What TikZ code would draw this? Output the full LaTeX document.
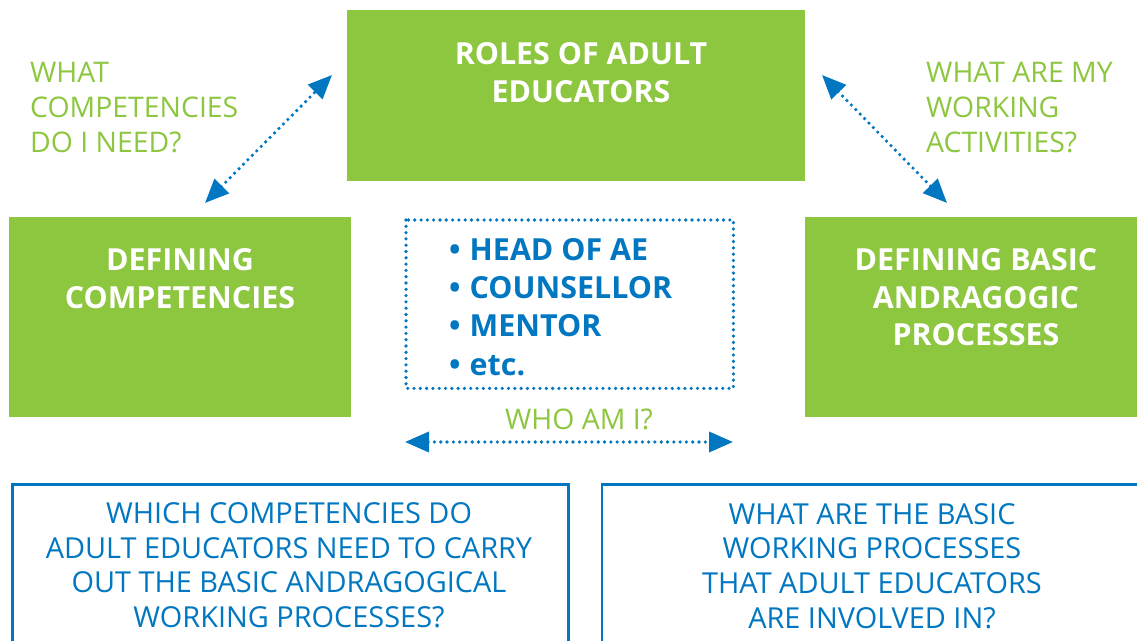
\documentclass[tikz,border=0pt]{standalone}
\usepackage{fontspec}
\setmainfont{Open Sans}
\usepackage{xcolor}
\usetikzlibrary{arrows.meta}
\usetikzlibrary{positioning}
\definecolor{leafgreen}{RGB}{141,198,63}
\definecolor{oceanblue}{RGB}{0,119,192}
\tikzset{%
  greenbox/.style={rectangle,fill=leafgreen,draw=none,anchor=north west,inner sep=0pt}
}
\tikzset{%
  whitetitle/.style={text=white,font=\bfseries\fontsize{30.5}{38}\selectfont,align=center,anchor=north,inner sep=0pt}
}
\tikzset{%
  greenask/.style={text=leafgreen,font=\fontsize{28.5}{35}\selectfont,align=left,anchor=north west,inner sep=0pt}
}
\tikzset{%
  bluebox/.style={rectangle,draw=oceanblue,line width=2.7bp,anchor=north west,inner sep=0pt}
}
\tikzset{%
  blueask/.style={text=oceanblue,font=\fontsize{29}{35}\selectfont,align=center,anchor=north,inner sep=0pt}
}
\tikzset{%
  dotline/.style={draw=oceanblue,line width=3.6bp,line cap=round,dash pattern=on 0pt off 6.3bp},
  dotarrow/.style={dotline,{Triangle[length=24bp,width=20bp]}-{Triangle[length=24bp,width=20bp]}}
}
\begin{document}
\begin{tikzpicture}[x=1bp,y=-1bp]
  \useasboundingbox (0,0) rectangle (1137,641);

  % green boxes
  \node[greenbox,minimum width=458bp,minimum height=171bp] (roles) at (347,10) {};
  \node[greenbox,minimum width=342bp,minimum height=200bp] (defcomp) at (9,217) {};
  \node[greenbox,minimum width=335bp,minimum height=200bp] (defproc) at (805,217) {};
  \node[whitetitle] (rolestext) at (581,42) {ROLES OF ADULT\\EDUCATORS};
  \node[whitetitle] (defcomptext) at (180,248) {DEFINING\\COMPETENCIES};
  \node[whitetitle] (defproctext) at (976,248) {DEFINING BASIC\\ANDRAGOGIC\\PROCESSES};

  % questions beside the boxes
  \node[greenask] (askcomp) at (30,62) {WHAT\\COMPETENCIES\\DO I NEED?};
  \node[greenask] (askwork) at (926,62) {WHAT ARE MY\\WORKING\\ACTIVITIES?};
  \node[greenask,anchor=north] (askwho) at (579,409) {WHO AM I?};

  % the roles in between
  \node[rectangle,minimum width=327bp,minimum height=168bp,anchor=north west,inner sep=0pt] (rolelist) at (406,220) {};
  \draw[dotline] (rolelist.north west) rectangle (rolelist.south east);
  \node[text=oceanblue,font=\bfseries\fontsize{30.5}{38.5}\selectfont,align=left,anchor=north west,inner sep=0pt]
    (items) at (449,238) {•\hspace{0.3em}HEAD OF AE\\•\hspace{0.3em}COUNSELLOR\\•\hspace{0.3em}MENTOR\\•\hspace{0.3em}etc.};

  % arrows
  \coordinate (lefttop) at (332,75);
  \coordinate (leftbot) at (205,203);
  \coordinate (righttop) at (822,75);
  \coordinate (rightbot) at (947,203);
  \coordinate (whol) at (405,442);
  \coordinate (whor) at (733,442);
  \draw[dotarrow] (leftbot) -- (lefttop);
  \draw[dotarrow] (righttop) -- (rightbot);
  \draw[dotarrow] (whol) -- (whor);

  % blue question boxes at the bottom
  \node[bluebox,minimum width=556bp,minimum height=200bp] (compq) at (11,483) {};
  \node[bluebox,minimum width=560bp,minimum height=200bp] (procq) at (600.5,483) {};
  \node[blueask] (compqtext) at (289,502)
    {WHICH COMPETENCIES DO\\ADULT EDUCATORS NEED TO CARRY\\OUT THE BASIC ANDRAGOGICAL\\WORKING PROCESSES?};
  \node[blueask] (procqtext) at (872,503)
    {WHAT ARE THE BASIC\\WORKING PROCESSES\\THAT ADULT EDUCATORS\\ARE INVOLVED IN?};
\end{tikzpicture}
\end{document}
